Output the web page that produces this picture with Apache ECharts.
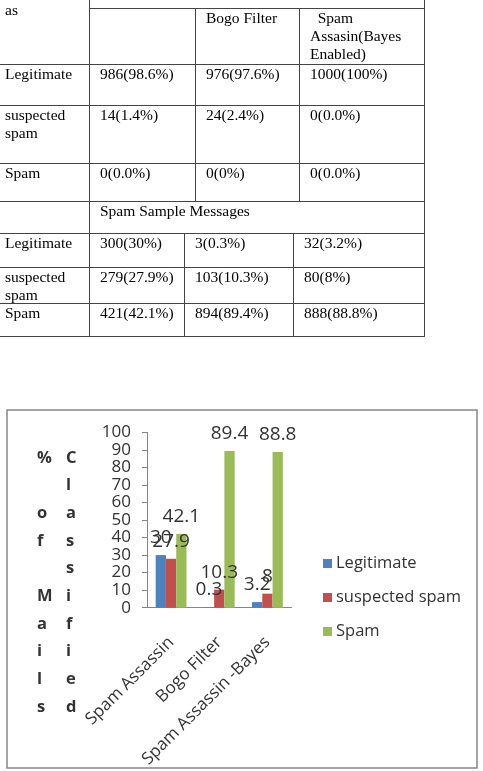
<!DOCTYPE html>
<html>
<head>
<meta charset="utf-8">
<script src="https://cdn.jsdelivr.net/npm/echarts@6/dist/echarts.min.js"></script>
<style>
  html, body { margin: 0; padding: 0; background: #fff; }
  #page { position: relative; width: 483px; height: 771px; overflow: hidden; }
  #chart { position: absolute; left: 0; top: 0; width: 483px; height: 771px; }
  #table { position: absolute; left: 0; top: 0; width: 483px; height: 340px; z-index: 2;
           font-family: "Liberation Serif", "Times New Roman", serif; font-size: 15.5px;
           line-height: 18px; color: #000; }
  .hl { position: absolute; height: 1px; background: #444; }
  .vl { position: absolute; width: 1px; background: #444; }
  .cell { position: absolute; white-space: pre-wrap; }
</style>
</head>
<body>
<div id="page">
  <div id="chart"></div>
  <div id="table"></div>
</div>
<script>
// table text
const rowLabels = ["Legitimate", "suspected spam", "Spam"];
const headerCols = ["", "Bogo Filter", "  Spam Assasin(Bayes Enabled)"];
const hamSA = ["986(98.6%)", "14(1.4%)", "0(0.0%)"];
const hamBogo = ["976(97.6%)", "24(2.4%)", "0(0%)"];
const hamSAB = ["1000(100%)", "0(0.0%)", "0(0.0%)"];
const spamTitle = "Spam Sample Messages";
const spamSA = ["300(30%)", "279(27.9%)", "421(42.1%)"];
const spamBogo = ["3(0.3%)", "103(10.3%)", "894(89.4%)"];
const spamSAB = ["32(3.2%)", "80(8%)", "888(88.8%)"];

// chart data
const categories = ["Spam Assassin", "Bogo Filter", "Spam Assassin -Bayes"];
const legitimate = [30, 0.3, 3.2];
const suspected = [27.9, 10.3, 8];
const spam = [42.1, 89.4, 88.8];
const yTitleA = "% of Mails";
const yTitleB = "Classified";

// ---- table ----
const tbl = document.getElementById("table");
function hline(y, x1, x2) {
  const d = document.createElement("div");
  d.className = "hl";
  d.style.top = y + "px"; d.style.left = x1 + "px"; d.style.width = (x2 - x1 + 1) + "px";
  tbl.appendChild(d);
}
function vline(x, y1, y2) {
  const d = document.createElement("div");
  d.className = "vl";
  d.style.left = x + "px"; d.style.top = y1 + "px"; d.style.height = (y2 - y1 + 1) + "px";
  tbl.appendChild(d);
}
function cell(text, x, y, w) {
  const d = document.createElement("div");
  d.className = "cell";
  d.style.left = x + "px"; d.style.top = y + "px"; d.style.width = w + "px";
  d.textContent = text;
  tbl.appendChild(d);
}

const rowsTop = [64, 105, 163];
const rowsBottom = [233, 267, 303];
hline(8, 89, 424);
[64, 105, 163, 201, 233, 267, 303, 336].forEach(y => hline(y, 0, 424));
vline(89, 0, 336);
vline(424, 0, 336);
vline(195, 8, 201);
vline(299, 8, 201);
vline(184, 233, 336);
vline(293, 233, 336);

cell("as", 5, 1, 80);
cell(headerCols[1], 206, 9, 90);
cell(headerCols[2], 310, 9, 112);
rowsTop.forEach((y, i) => {
  cell(rowLabels[i], 5, y + 1, 82);
  cell(hamSA[i], 100, y + 1, 92);
  cell(hamBogo[i], 206, y + 1, 92);
  cell(hamSAB[i], 310, y + 1, 112);
});
cell(spamTitle, 100, 202, 300);
rowsBottom.forEach((y, i) => {
  cell(rowLabels[i], 5, y + 1, 82);
  cell(spamSA[i], 100, y + 1, 82);
  cell(spamBogo[i], 195, y + 1, 96);
  cell(spamSAB[i], 304, y + 1, 118);
});

// ---- chart ----
const chart = echarts.init(document.getElementById("chart"));
const txt = "#333";
const axisGray = "#868686";
const font = "Open Sans";
const labelOpt = {
  show: true, position: "top", distance: 8,
  color: txt, fontFamily: font, fontSize: 19
};

chart.setOption({
  animation: false,
  textStyle: { fontFamily: font },
  color: ["#4F81BD", "#C0504D", "#9BBB59"],
  graphic: [
    { type: "rect", shape: { x: 7, y: 410, width: 470, height: 358 },
      style: { fill: "none", stroke: axisGray, lineWidth: 1.5 } },
    { type: "text", left: 37, top: 444,
      style: { text: yTitleA.split("").join("\n"), fontFamily: font, fontWeight: "bold",
               fontSize: 16.5, lineHeight: 27.7, fill: txt, align: "center" } },
    { type: "text", left: 66, top: 444,
      style: { text: yTitleB.split("").join("\n"), fontFamily: font, fontWeight: "bold",
               fontSize: 16.5, lineHeight: 27.7, fill: txt, align: "center" } }
  ],
  legend: {
    orient: "vertical", left: 323, top: 555, padding: 0,
    icon: "rect", itemWidth: 9, itemHeight: 9, itemGap: 17, itemStyle: { borderWidth: 0 },
    textStyle: { color: txt, fontFamily: font, fontSize: 16.5, padding: [0, 0, 0, -1] },
    data: ["Legitimate", "suspected spam", "Spam"]
  },
  grid: { left: 147, top: 432.3, width: 144.5, height: 175.4, outerBoundsMode: "none" },
  xAxis: {
    type: "category", data: categories,
    axisLine: { lineStyle: { color: axisGray } },
    axisTick: { length: 5, lineStyle: { color: axisGray } },
    axisLabel: { rotate: 45, margin: 32, interval: 0, color: txt, fontFamily: font, fontSize: 17 }
  },
  yAxis: {
    type: "value", min: 0, max: 100, interval: 10,
    axisLine: { show: true, lineStyle: { color: axisGray } },
    axisTick: { show: true, length: 5, lineStyle: { color: axisGray } },
    splitLine: { show: false },
    axisLabel: { margin: 16, color: txt, fontFamily: font, fontSize: 17 }
  },
  series: [
    { name: "Legitimate", type: "bar", data: legitimate, barGap: "0%", barCategoryGap: "36%", label: labelOpt },
    { name: "suspected spam", type: "bar", data: suspected, label: labelOpt },
    { name: "Spam", type: "bar", data: spam, label: labelOpt }
  ]
});
</script>
</body>
</html>
